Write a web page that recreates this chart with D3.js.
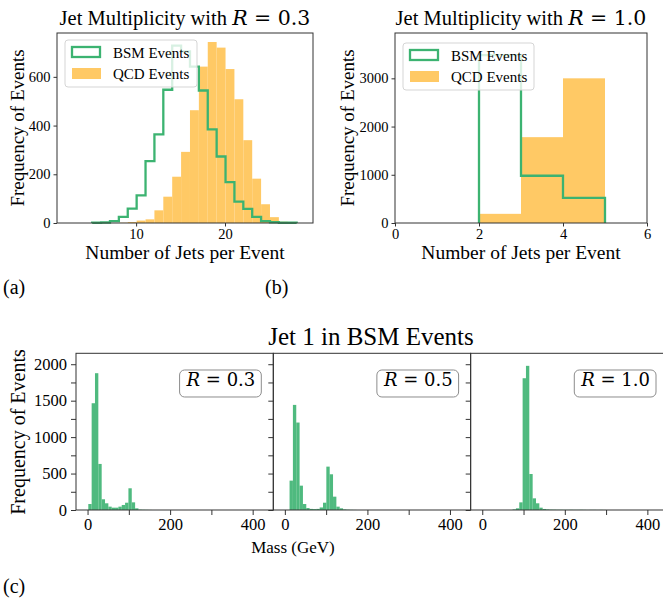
<!DOCTYPE html>
<html>
<head>
<meta charset="utf-8">
<script src="https://cdn.jsdelivr.net/npm/d3@7"></script>
<style>
body { margin: 0; background: #fff; }
text { font-family: "Liberation Serif", serif; fill: #000; }
.math { font-family: "DejaVu Serif", serif; }
</style>
</head>
<body>
<svg id="fig" width="663" height="608"></svg>
<script>
// ---- data ----
// (a) jet multiplicity, R = 0.3 (bin left edges, one jet wide)
var binsA = [5.06, 6.06, 7.06, 8.06, 9.06, 10.06, 11.06, 12.06, 13.06, 14.06, 15.06, 16.06,
             17.06, 18.06, 19.06, 20.06, 21.06, 22.06, 23.06, 24.06, 25.06, 26.06, 27.06];
var bsmA = [1, 2, 8, 25, 59, 113, 254, 364, 547, 728, 704, 642, 544, 384, 273, 168, 88, 58, 25, 8, 3, 1, 1];
var qcdA = [0, 0, 0, 1, 4, 10, 15, 52, 108, 190, 292, 463, 642, 743, 720, 632, 508, 340, 182, 77, 24, 5, 1];

// (b) jet multiplicity, R = 1.0
var binsB = [2, 3, 4];
var bsmB = [3480, 980, 520];
var qcdB = [190, 1780, 3000];

// (c) leading jet mass in BSM events
var massBinWidth = 8.1;
var massStart03 = 1.8;
var mass03 = [82, 1465, 1877, 632, 147, 92, 46, 32, 32, 46, 69, 100, 298, 105, 23, 5, 3, 2, 1];
var massStart05 = 11.4;
var mass05 = [403, 1442, 1200, 334, 82, 27, 15, 12, 15, 35, 100, 595, 490, 183, 46, 23, 8, 4, 2, 1];
var massStart10 = 73.5;
var mass10 = [8, 23, 105, 1808, 1978, 494, 160, 92, 32, 14, 8, 5, 4, 3, 3, 2, 2, 3, 2, 2, 3, 2, 1, 2, 2, 1, 2, 1];

var ticksA = [10, 20], yTicksA = [0, 200, 400, 600];
var ticksB = [0, 2, 4, 6], yTicksB = [0, 1000, 2000, 3000];
var massTicks = [0, 100, 200, 300, 400], massLabels = [0, 200, 400];
var freqTicks = [0, 250, 500, 750, 1000, 1250, 1500, 1750, 2000], freqLabels = [0, 500, 1000, 1500, 2000];

var green = "#3cb371", orange = "#ffc965", spine = "#333";
var svg = d3.select("#fig");

function plain(d) { return String(d); }

function styleAxis(g, size) {
    g.select(".domain").remove();
    g.selectAll("line").attr("stroke", spine);
    g.selectAll("text").attr("font-size", size).attr("font-family", "Liberation Serif");
}

function mathTitle(sel, pre, val, size) {
    var t = sel.append("text").attr("font-size", size);
    if (pre) t.append("tspan").text(pre);
    t.append("tspan").attr("class", "math").attr("font-style", "italic").text("R");
    t.append("tspan").attr("class", "math").text(" = " + val);
    return t;
}

function multPanel(o) {
    var width = o.right - o.left,
        height = o.bottom - o.top;
    var g = svg.append("g")
        .attr("transform", "translate(" + o.left + "," + o.top + ")");

    var x = d3.scaleLinear().domain(o.xDomain).range([0, width]);
    var y = d3.scaleLinear().domain(o.yDomain).range([height, 0]);

    // QCD filled bars
    g.selectAll(".qcd")
        .data(o.qcd)
        .enter().append("rect")
        .attr("class", "qcd")
        .attr("x", function (d, i) { return x(o.bins[i]); })
        .attr("width", function (d, i) { return x(o.bins[i] + o.bw) - x(o.bins[i]); })
        .attr("y", function (d) { return y(d); })
        .attr("height", function (d) { return height - y(d); })
        .attr("fill", orange);

    // BSM step outline
    var pts = [[o.bins[0], 0]];
    o.bsm.forEach(function (d, i) {
        pts.push([o.bins[i], d]);
        pts.push([o.bins[i] + o.bw, d]);
    });
    pts.push([o.bins[o.bins.length - 1] + o.bw, 0]);
    g.append("path")
        .attr("d", d3.line().x(function (p) { return x(p[0]); }).y(function (p) { return y(p[1]); })(pts))
        .attr("fill", "none")
        .attr("stroke", green)
        .attr("stroke-width", 2.3);

    g.append("rect").attr("width", width).attr("height", height)
        .attr("fill", "none").attr("stroke", spine);

    // axes
    g.append("g")
        .attr("transform", "translate(0," + height + ")")
        .call(d3.axisBottom(x).tickValues(o.xTicks).tickSize(3.5).tickPadding(2).tickFormat(plain))
        .call(styleAxis, 14.5);
    g.append("g")
        .call(d3.axisLeft(y).tickValues(o.yTicks).tickSize(3.5).tickPadding(3).tickFormat(plain))
        .call(styleAxis, 14.5);

    // labels
    mathTitle(g, "Jet Multiplicity with ", o.r, 20.5)
        .attr("x", width / 2).attr("y", 25 - o.top).attr("text-anchor", "middle");
    g.append("text")
        .attr("x", width / 2).attr("y", 259 - o.top)
        .attr("text-anchor", "middle").attr("font-size", 19.5)
        .text("Number of Jets per Event");
    g.append("text")
        .attr("transform", "rotate(-90)")
        .attr("x", -height / 2).attr("y", o.ylabX - o.left)
        .attr("text-anchor", "middle").attr("font-size", 19)
        .text("Frequency of Events");

    // legend
    var lg = g.append("g").attr("transform", "translate(" + (o.leg[0] - o.left) + "," + (o.leg[1] - o.top) + ")");
    lg.append("rect").attr("width", o.leg[2]).attr("height", 47).attr("rx", 3)
        .attr("fill", "#fff").attr("fill-opacity", 0.8).attr("stroke", "#d5d5d5");
    lg.append("rect").attr("x", 7).attr("y", 7).attr("width", 28).attr("height", 10)
        .attr("fill", "none").attr("stroke", green).attr("stroke-width", 2.3);
    lg.append("rect").attr("x", 7).attr("y", 28).attr("width", 29).attr("height", 11)
        .attr("fill", orange);
    lg.append("text").attr("x", 48).attr("y", 17.5).attr("font-size", 15).text("BSM Events");
    lg.append("text").attr("x", 48).attr("y", 39).attr("font-size", 15).text("QCD Events");
}

multPanel({
    left: 57, right: 313, top: 33, bottom: 223,
    xDomain: [1.1, 29.9], yDomain: [0, 780],
    bins: binsA, bw: 1, bsm: bsmA, qcd: qcdA,
    xTicks: ticksA, yTicks: yTicksA, r: "0.3",
    ylabX: 24, leg: [65, 40, 132]
});
multPanel({
    left: 395, right: 647, top: 33, bottom: 223,
    xDomain: [0, 6], yDomain: [0, 3940],
    bins: binsB, bw: 1, bsm: bsmB, qcd: qcdB,
    xTicks: ticksB, yTicks: yTicksB, r: "1.0",
    ylabX: 354, leg: [403, 43, 131]
});

// ---- (c) mass panels ----
var massPanels = [
    { left: 76, start: massStart03, vals: mass03, r: "0.3" },
    { left: 273.3, start: massStart05, vals: mass05, r: "0.5" },
    { left: 470.7, start: massStart10, vals: mass10, r: "1.0" }
];
var mTop = 353.3, mBottom = 510, mWidth = 197.3, mHeight = mBottom - mTop;

massPanels.forEach(function (p, k) {
    var g = svg.append("g").attr("transform", "translate(" + p.left + "," + mTop + ")");
    var x = d3.scaleLinear().domain([-28, 450]).range([0, mWidth]);
    var y = d3.scaleLinear().domain([0, 2150]).range([mHeight, 0]);

    g.selectAll(".bar")
        .data(p.vals)
        .enter().append("rect")
        .attr("class", "bar")
        .attr("x", function (d, i) { return x(p.start + i * massBinWidth); })
        .attr("width", x(massBinWidth) - x(0))
        .attr("y", function (d) { return y(d); })
        .attr("height", function (d) { return mHeight - y(d); })
        .attr("fill", green).attr("fill-opacity", 0.9);

    g.append("rect").attr("width", mWidth).attr("height", mHeight)
        .attr("fill", "none").attr("stroke", spine);

    g.append("g")
        .attr("transform", "translate(0," + mHeight + ")")
        .call(d3.axisBottom(x).tickValues(massTicks).tickSize(5).tickPadding(3)
            .tickFormat(function (d) { return massLabels.indexOf(d) >= 0 ? String(d) : ""; }))
        .call(styleAxis, 16.5);
    g.append("g")
        .call(d3.axisLeft(y).tickValues(freqTicks).tickSize(5).tickPadding(4)
            .tickFormat(function (d) { return k === 0 && freqLabels.indexOf(d) >= 0 ? String(d) : ""; }))
        .call(styleAxis, 16.5);

    // R label box
    var box = g.append("rect");
    var t = mathTitle(g, null, p.r, 18)
        .attr("x", mWidth - 18).attr("y", 386 - mTop).attr("text-anchor", "end");
    var bb = t.node().getBBox();
    box.attr("x", bb.x - 6).attr("y", bb.y + 1).attr("width", bb.width + 12).attr("height", bb.height + 6)
        .attr("rx", 5).attr("fill", "#fff").attr("stroke", "#8c8c8c");
});

svg.append("text").attr("x", 371).attr("y", 345).attr("text-anchor", "middle")
    .attr("font-size", 25).text("Jet 1 in BSM Events");
svg.append("text").attr("x", 293).attr("y", 553).attr("text-anchor", "middle")
    .attr("font-size", 17).text("Mass (GeV)");
svg.append("text")
    .attr("transform", "rotate(-90)")
    .attr("x", -432).attr("y", 25)
    .attr("text-anchor", "middle").attr("font-size", 20)
    .text("Frequency of Events");

// subfigure captions
svg.append("text").attr("x", 3).attr("y", 294).attr("font-size", 20).text("(a)");
svg.append("text").attr("x", 265).attr("y", 294).attr("font-size", 20).text("(b)");
svg.append("text").attr("x", 3).attr("y", 593).attr("font-size", 20).text("(c)");
</script>
</body>
</html>
